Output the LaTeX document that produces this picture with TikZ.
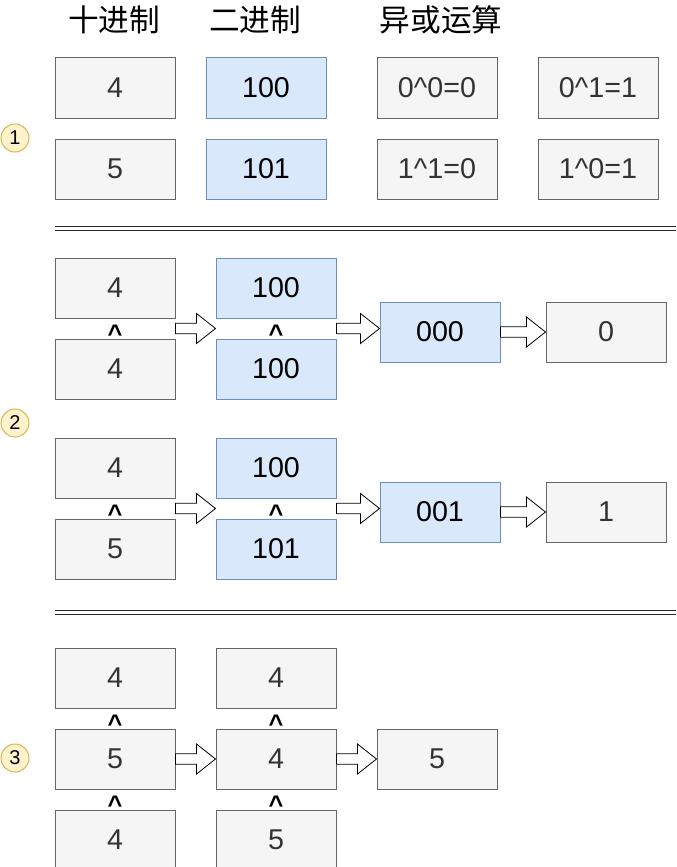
\documentclass[tikz,border=0pt]{standalone}
\usepackage{fontspec}
\setmainfont{Liberation Sans}
\newfontfamily\cjk{Noto Sans CJK SC}
\usetikzlibrary{positioning, calc}
\definecolor{grayfill}{HTML}{F5F5F5}
\definecolor{graydraw}{HTML}{666666}
\definecolor{bluefill}{HTML}{DAE8FC}
\definecolor{bluedraw}{HTML}{6C8EBF}
\definecolor{numfill}{HTML}{FFF2CC}
\definecolor{numdraw}{HTML}{D6B656}
\definecolor{txtgray}{HTML}{333333}

\begin{document}
\begin{tikzpicture}[
      node distance=15pt and 30pt,
      box/.style={draw, line width=0.75pt, minimum width=90pt, minimum height=45pt, inner sep=0pt, font=\fontsize{21.5}{25}\selectfont},
      dec/.style={box, fill=grayfill, draw=graydraw, text=txtgray},
      bin/.style={box, fill=bluefill, draw=bluedraw, text=black},
      head/.style={font=\cjk\fontsize{23}{28}\selectfont},
      num/.style={circle, draw=numdraw, fill=numfill, line width=0.75pt, minimum size=21pt, inner sep=0pt, font=\fontsize{15}{18}\selectfont},
      xorsign/.style={inner sep=0pt, font=\bfseries\fontsize{19}{22}\selectfont, yshift=-4pt},
      divider/.style={double, double distance=2.25pt, line width=0.75pt, draw=black!85},
      fat/.style={draw=black, fill=white, line width=0.6pt,
        to path={let \p1=(\tikztostart), \p2=(\tikztotarget) in
          (\x1,\y1+4pt) -- (\x2-14.25pt,\y1+4pt) -- (\x2-14.25pt,\y1+11.25pt) -- (\x2,\y1)
          -- (\x2-14.25pt,\y1-11.25pt) -- (\x2-14.25pt,\y1-4pt) -- (\x1,\y1-4pt) -- cycle}}
    ]
    \useasboundingbox (0,0) rectangle (507pt,-650.25pt);

    \node[head] (hdec) at (85.5pt,-15pt) {十进制};
    \node[head] (hbin) at (191.25pt,-15pt) {二进制};
    \node[head] (hxor) at (330.75pt,-15pt) {异或运算};

    \node[dec] (d4) at (86.25pt,-66pt) {4};
    \node[bin, right=22.5pt of d4] (b100) {100};
    \node[dec, right=37.5pt of b100] (x00) {0\textasciicircum0=0};
    \node[dec, right=30pt of x00] (x01) {0\textasciicircum1=1};
    \node[dec, below=of d4] (d5) {5};
    \node[bin, below=of b100] (b101) {101};
    \node[dec, below=of x00] (x11) {1\textasciicircum1=0};
    \node[dec, below=of x01] (x10) {1\textasciicircum0=1};
    \node[num] (n1) at (11.25pt,-103.5pt) {1};

    \coordinate (s1l) at (41.25pt,-171pt);
    \coordinate (s1r) at (507pt,-171pt);
    \draw[divider] (s1l) -- (s1r);

    \node[dec] (p4) at (86.25pt,-216pt) {4};
    \node[dec, below=of p4] (q4) {4};
    \node[bin, right=of p4] (p100) {100};
    \node[bin, below=of p100] (q100) {100};
    \node[bin] (r000) at (330pt,-249pt) {000};
    \node[dec, right=33.75pt of r000] (r0) {0};
    \node[xorsign] (o1) at ($(p4.south)!0.5!(q4.north)$) {\textasciicircum};
    \node[xorsign] (o2) at ($(p100.south)!0.5!(q100.north)$) {\textasciicircum};
    \coordinate (m1) at ($(p4.south east)!0.5!(q4.north east)$);
    \coordinate (m2) at ($(p100.south east)!0.5!(q100.north east)$);
    \draw[fat] (m1) to (p100.west);
    \draw[fat] (m2) to (r000.west);
    \draw[fat] (r000.east) to (r0.west);

    \node[dec] (u4) at (86.25pt,-351pt) {4};
    \node[dec, below=of u4] (v5) {5};
    \node[bin, right=of u4] (u100) {100};
    \node[bin, below=of u100] (v101) {101};
    \node[bin] (w001) at (330pt,-384pt) {001};
    \node[dec, right=33.75pt of w001] (w1) {1};
    \node[xorsign] (o3) at ($(u4.south)!0.5!(v5.north)$) {\textasciicircum};
    \node[xorsign] (o4) at ($(u100.south)!0.5!(v101.north)$) {\textasciicircum};
    \coordinate (m3) at ($(u4.south east)!0.5!(v5.north east)$);
    \coordinate (m4) at ($(u100.south east)!0.5!(v101.north east)$);
    \draw[fat] (m3) to (u100.west);
    \draw[fat] (m4) to (w001.west);
    \draw[fat] (w001.east) to (w1.west);

    \node[num] (n2) at (11.25pt,-317.25pt) {2};

    \coordinate (s2l) at (41.25pt,-459.5pt);
    \coordinate (s2r) at (507pt,-459.5pt);
    \draw[divider] (s2l) -- (s2r);

    \node[dec] (e4) at (86.25pt,-508.5pt) {4};
    \node[dec, below=of e4] (e5) {5};
    \node[dec, below=of e5] (e4b) {4};
    \node[dec, right=of e4] (f4) {4};
    \node[dec, below=of f4] (f4b) {4};
    \node[dec, below=of f4b] (f5) {5};
    \node[dec, right=of f4b] (g5) {5};
    \node[xorsign] (o5) at ($(e4.south)!0.5!(e5.north)$) {\textasciicircum};
    \node[xorsign] (o6) at ($(e5.south)!0.5!(e4b.north)$) {\textasciicircum};
    \node[xorsign] (o7) at ($(f4.south)!0.5!(f4b.north)$) {\textasciicircum};
    \node[xorsign] (o8) at ($(f4b.south)!0.5!(f5.north)$) {\textasciicircum};
    \draw[fat] (e5.east) to (f4b.west);
    \draw[fat] (f4b.east) to (g5.west);

    \node[num] (n3) at (11.25pt,-568.5pt) {3};
  \end{tikzpicture}
\end{document}
